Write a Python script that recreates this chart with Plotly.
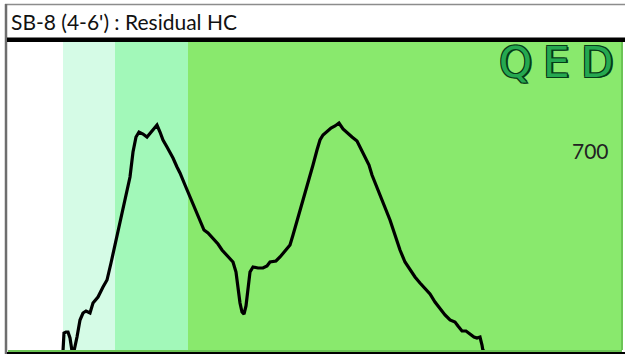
import plotly.graph_objects as go

# Chromatogram trace: retention time (min) vs detector response
rt = [2.75, 2.80, 2.90, 3.00, 3.10, 3.20, 3.30, 3.35, 3.45, 3.60, 3.75, 3.90, 4.10, 4.25,
      4.50, 4.75, 4.95, 5.15, 5.35, 5.60, 5.85, 6.10, 6.25, 6.40, 6.55, 6.75, 6.95, 7.15,
      7.35, 7.45, 7.60, 7.75, 7.95, 8.10, 8.25, 8.45, 8.60, 8.85, 9.10, 9.35, 9.60, 9.80,
      10.00, 10.25, 10.50, 10.70, 10.95, 11.25, 11.40, 11.50, 11.60, 11.70, 11.80, 11.90,
      12.00, 12.10, 12.25, 12.50, 12.75, 12.95, 13.10, 13.40, 13.60, 13.80, 14.10, 14.25,
      14.45, 14.65, 14.85, 15.05, 15.25, 15.45, 15.60, 15.75, 15.95, 16.15, 16.35, 16.55,
      16.75, 16.95, 17.20, 17.45, 17.60, 17.75, 17.90, 18.05, 18.20, 18.40, 18.60, 18.85,
      19.10, 19.35, 19.60, 19.85, 20.10, 20.35, 20.60, 20.85, 21.10, 21.35, 21.60, 21.85,
      22.10, 22.35, 22.50, 22.70, 22.90, 23.10, 23.30, 23.45, 23.60, 23.70, 23.75, 23.85]
response = [0, 18, 19, 19, 13, 0, 0, 6, 14, 31, 38, 40, 38, 48,
            54, 64, 71, 88, 106, 131, 154, 174, 199, 214, 219, 217, 214, 219,
            224, 226, 219, 211, 204, 199, 193, 184, 178, 166, 154, 144, 131, 121,
            118, 113, 107, 101, 96, 89, 79, 61, 48, 39, 37, 45,
            63, 79, 84, 83, 83, 85, 89, 90, 94, 99, 106, 116,
            129, 144, 158, 171, 186, 201, 211, 216, 220, 223, 225, 228,
            222, 218, 214, 210, 204, 199, 193, 186, 176, 166, 156, 144,
            131, 116, 101, 89, 81, 74, 68, 62, 57, 49, 42, 36,
            31, 29, 25, 20, 20, 17, 14, 13, 14, 6, 0, 0]

# Boiling-range bands (start, end, colour)
band_start = [0.0, 2.75, 5.35, 9.0]
band_end = [2.75, 5.35, 9.0, 30.7]
band_color = ["#ffffff", "#d5fbe6", "#a2f8b9", "#89e96d"]

title_text = "SB-8 (4-6') : Residual HC"
scale_label = "700"
logo_letters = ["Q", "E", "D"]

W, H = 625, 354


def px(x):
    return x / W


def py(y):
    return 1 - y / H


fig = go.Figure()

shapes = []
for s, e, c in zip(band_start, band_end, band_color):
    shapes.append(dict(type="rect", xref="x", yref="paper", x0=s, x1=e,
                       y0=py(351), y1=py(42), fillcolor=c, line=dict(width=0),
                       layer="below"))

fig.add_trace(go.Scatter(x=rt, y=response, mode="lines",
                         line=dict(color="black", width=3.2), hoverinfo="skip",
                         cliponaxis=True))

# Frame lines
shapes += [
    dict(type="line", xref="paper", yref="paper", x0=px(5), x1=px(625), y0=py(4.5), y1=py(4.5),
         line=dict(color="#8c8c8c", width=1.5)),
    dict(type="line", xref="paper", yref="paper", x0=px(6), x1=px(6), y0=py(4), y1=py(354),
         line=dict(color="#6e6e6e", width=2.5)),
    dict(type="rect", xref="paper", yref="paper", x0=px(7), x1=px(625), y0=py(42), y1=py(37.5),
         fillcolor="black", line=dict(width=0)),
    dict(type="rect", xref="paper", yref="paper", x0=px(7), x1=px(625), y0=py(354), y1=py(352),
         fillcolor="black", line=dict(width=0)),
    dict(type="rect", xref="paper", yref="paper", x0=px(8), x1=px(622), y0=py(352), y1=py(350),
         fillcolor="#6cc455", line=dict(width=0)),
    dict(type="rect", xref="paper", yref="paper", x0=px(621), x1=px(623), y0=py(350), y1=py(42),
         fillcolor="#6cc455", line=dict(width=0)),
]

annotations = [
    dict(text=title_text, x=px(9), y=py(22), xref="paper", yref="paper",
         xanchor="left", yanchor="middle", showarrow=False,
         font=dict(family="Lato", size=21, color="#111111")),
    dict(text=scale_label, x=px(611), y=py(150), xref="paper", yref="paper",
         xanchor="right", yanchor="middle", showarrow=False,
         font=dict(family="Lato", size=21, color="#222222")),
]

outline = "#063a18"
shadow = (f"1px 1px 0 {outline}, -1px -1px 0 {outline}, 1px -1px 0 {outline}, "
          f"-1px 1px 0 {outline}, 2px 1px 0 {outline}")
for letter, cx in zip(logo_letters, [515, 556, 597]):
    annotations.append(dict(text=letter, x=px(cx), y=py(62), xref="paper", yref="paper",
                            xanchor="center", yanchor="middle", showarrow=False,
                            font=dict(family="DejaVu Sans", size=42, color="#25a850",
                                      weight="normal", shadow=shadow)))

fig.update_layout(
    width=W, height=H,
    margin=dict(l=0, r=0, t=0, b=0),
    paper_bgcolor="white", plot_bgcolor="white",
    showlegend=False,
    shapes=shapes,
    annotations=annotations,
    xaxis=dict(domain=[px(8), px(622)], range=[0, 30.7], visible=False, fixedrange=True),
    yaxis=dict(domain=[py(351), py(42)], range=[0, 309], visible=False, fixedrange=True),
)

fig.write_html("out.html", config={"displayModeBar": False})
